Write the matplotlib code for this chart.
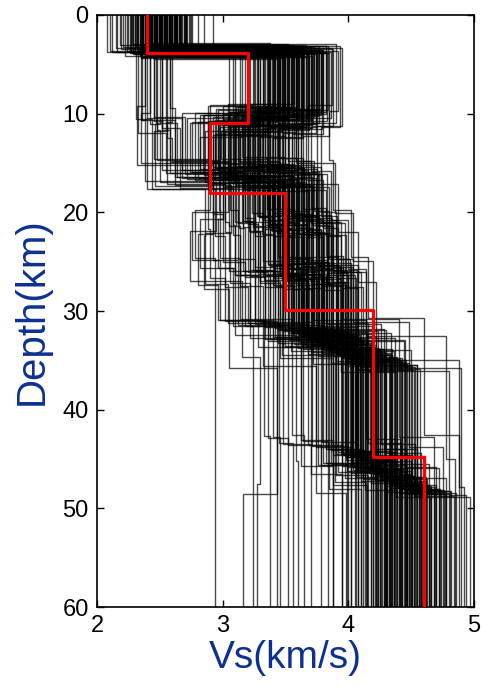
import matplotlib
matplotlib.use("Agg")
import matplotlib.pyplot as plt

plt.rcParams['font.family'] = ['Liberation Sans', 'DejaVu Sans']

# ---- best (red) model ----
best_vs = [2.40, 3.20, 2.90, 3.50, 4.20, 4.60]
best_top = [0.0, 3.9, 10.9, 18.0, 29.9, 44.8]
max_depth = 60.0

# ================= ensemble A =================
# interface depths (km)
z1 = [3.5, 3.2, 3.9, 3.0, 3.7, 4.2, 3.4, 3.6, 2.9, 3.8, 3.3, 4.0,
      3.6, 3.1, 3.9, 3.5, 4.3, 3.2, 3.7, 3.4, 2.8, 3.8, 3.5, 4.1,
      3.3, 3.6, 3.0, 3.9, 3.5, 4.4, 3.2, 3.7, 3.4, 3.8, 3.1, 4.0,
      3.6, 3.3, 3.9, 2.9, 3.5, 4.2, 3.4, 3.7, 3.2, 3.8, 3.6, 3.0,
      4.1, 3.5, 3.3, 3.9, 3.6, 3.1, 4.3, 3.4, 3.7, 3.2, 3.8, 3.5,
      3.0, 4.0, 3.6, 3.3, 3.9, 3.4, 4.5, 3.7, 3.1, 3.8, 3.5, 3.2]
z2 = [9.8, 10.6, 11.2, 9.2, 10.1, 11.8, 10.4, 9.5, 10.9, 12.2, 9.9, 10.7,
      11.4, 9.0, 10.3, 11.0, 9.7, 12.4, 10.5, 9.4, 11.6, 10.0, 10.8, 9.3,
      11.3, 10.2, 9.6, 12.0, 10.6, 11.1, 9.1, 10.4, 11.7, 9.8, 10.9, 10.1,
      12.3, 9.5, 10.7, 11.5, 9.9, 10.3, 11.9, 9.2, 10.5, 11.0, 9.7, 10.8,
      10.2, 11.4, 9.4, 10.6, 12.1, 9.6, 10.9, 11.2, 9.0, 10.4, 11.6, 10.0,
      9.8, 11.8, 10.3, 9.3, 10.7, 11.3, 10.1, 12.5, 9.9, 10.5, 11.1, 9.6]
z3 = [15.8, 16.4, 15.2, 17.0, 16.0, 14.6, 16.8, 15.5, 17.4, 16.2, 15.0, 16.6,
      15.4, 17.2, 16.1, 14.8, 16.9, 15.6, 17.6, 16.3, 15.1, 16.7, 15.9, 14.4,
      17.1, 16.5, 15.3, 16.0, 17.8, 15.7, 16.4, 15.0, 16.9, 15.5, 17.3, 16.2,
      14.9, 16.6, 15.8, 17.5, 16.1, 15.4, 16.8, 15.2, 17.0, 16.3, 14.7, 16.5,
      15.6, 17.2, 16.0, 15.3, 16.7, 17.7, 15.9, 14.5, 16.4, 15.7, 17.1, 16.2,
      15.1, 16.9, 15.5, 17.4, 16.0, 15.8, 16.6, 14.8, 17.3, 15.4, 16.3, 15.9]
z4 = [20.8, 21.4, 20.2, 22.0, 21.0, 19.8, 21.6, 20.5, 22.3, 21.2, 20.0, 21.7,
      20.4, 22.1, 21.1, 19.6, 21.8, 20.6, 22.4, 21.3, 20.1, 21.6, 20.9, 19.9,
      22.0, 21.5, 20.3, 21.0, 22.5, 20.7, 21.4, 20.0, 21.9, 20.5, 22.2, 21.2,
      19.7, 21.6, 20.8, 22.3, 21.1, 20.4, 21.8, 20.2, 22.0, 21.3, 19.8, 21.5,
      20.6, 22.1, 21.0, 20.3, 21.7, 22.4, 20.9, 19.9, 21.4, 20.7, 22.1, 21.2,
      20.1, 21.9, 20.5, 22.3, 21.0, 20.8, 21.6, 19.8, 22.2, 20.4, 21.3, 20.9]
z5 = [25.6, 26.4, 25.0, 27.2, 25.9, 24.6, 26.8, 25.3, 27.6, 26.1, 24.8, 26.6,
      25.2, 27.0, 26.0, 24.4, 26.9, 25.5, 27.8, 26.3, 24.9, 26.7, 25.8, 24.5,
      27.1, 26.5, 25.1, 25.9, 27.9, 25.7, 26.4, 24.7, 27.0, 25.4, 27.4, 26.2,
      24.6, 26.6, 25.6, 27.5, 26.0, 25.2, 26.8, 25.0, 27.3, 26.3, 24.5, 26.5,
      25.5, 27.2, 25.9, 25.1, 26.7, 27.7, 25.8, 24.8, 26.4, 25.6, 27.1, 26.1,
      25.0, 26.9, 25.3, 27.4, 25.9, 25.7, 26.6, 24.7, 27.3, 25.2, 26.2, 25.8]
z6 = [32.5, 33.6, 31.8, 34.8, 32.9, 31.0, 34.2, 32.2, 35.5, 33.1, 31.4, 33.9,
      32.0, 34.6, 33.0, 30.8, 34.4, 32.6, 35.8, 33.4, 31.6, 34.0, 32.8, 31.2,
      35.0, 33.7, 31.9, 32.7, 36.2, 32.4, 33.5, 31.1, 34.7, 32.3, 35.2, 33.2,
      30.9, 33.8, 32.5, 35.6, 33.0, 31.7, 34.3, 31.5, 35.1, 33.3, 30.7, 33.6,
      32.1, 34.9, 32.8, 31.8, 34.1, 36.0, 32.6, 31.3, 33.4, 32.4, 34.8, 33.1,
      31.5, 34.5, 32.2, 35.4, 32.9, 32.5, 33.9, 31.0, 35.3, 32.0, 33.3, 32.7]
z7 = [45.2, 46.5, 44.0, 47.6, 45.8, 43.2, 47.0, 44.6, 48.2, 45.9, 43.6, 46.8,
      44.8, 47.4, 45.6, 42.8, 47.2, 48.0, 48.6, 46.2, 44.2, 46.9, 45.4, 43.4,
      47.8, 46.4, 44.4, 45.7, 48.8, 45.0, 46.3, 43.8, 47.5, 44.9, 48.0, 45.5,
      43.0, 46.7, 45.1, 48.4, 45.9, 44.5, 47.1, 44.1, 47.9, 46.0, 42.6, 46.6,
      45.3, 47.7, 45.6, 44.3, 46.9, 48.5, 45.4, 43.5, 46.1, 45.2, 47.6, 45.8,
      44.0, 47.3, 44.7, 48.1, 45.7, 45.0, 46.8, 48.5, 48.3, 44.6, 46.2, 45.5]
# layer velocities (km/s)
v1 = [2.45, 2.31, 2.58, 2.40, 2.66, 2.22, 2.52, 2.37, 2.73, 2.48, 2.15, 2.61,
      2.43, 2.55, 2.29, 2.69, 2.50, 2.36, 2.08, 2.57, 2.44, 2.63, 2.33, 2.47,
      2.85, 2.41, 2.53, 2.26, 2.60, 2.46, 2.39, 2.71, 2.19, 2.51, 2.64, 2.34,
      2.49, 2.56, 2.42, 2.28, 2.67, 2.38, 2.54, 2.12, 2.59, 2.44, 2.75, 2.32,
      2.50, 2.62, 2.25, 2.47, 2.40, 2.70, 2.35, 2.57, 2.46, 2.21, 2.65, 2.43,
      2.53, 2.30, 2.60, 2.48, 2.39, 2.92, 2.45, 2.27, 2.56, 2.51, 2.37, 2.62]
v2 = [3.45, 2.35, 3.62, 3.20, 3.78, 2.55, 3.51, 3.33, 3.90, 3.40, 2.42, 3.68,
      3.28, 3.57, 2.45, 3.74, 3.48, 3.15, 2.31, 3.60, 3.38, 3.82, 3.05, 3.52,
      3.95, 3.42, 3.66, 2.33, 3.71, 3.47, 3.25, 3.86, 2.48, 3.55, 3.77, 3.18,
      3.50, 3.64, 3.36, 2.52, 3.80, 3.30, 3.58, 2.38, 3.70, 3.44, 3.92, 3.22,
      3.53, 3.75, 2.58, 3.49, 3.35, 3.84, 3.10, 3.63, 3.46, 2.40, 3.79, 3.41,
      3.56, 3.26, 3.69, 3.54, 3.32, 3.88, 3.43, 2.56, 3.61, 3.59, 3.37, 3.73]
v3 = [3.05, 2.62, 3.30, 2.88, 3.48, 2.45, 3.18, 2.95, 3.60, 3.10, 2.35, 3.38,
      2.98, 3.22, 2.70, 3.52, 3.12, 2.82, 2.40, 3.28, 3.02, 3.66, 2.76, 3.15,
      3.75, 3.08, 3.35, 2.55, 3.42, 3.00, 2.90, 3.58, 2.50, 3.20, 3.45, 2.85,
      3.14, 3.32, 2.96, 2.66, 3.55, 2.92, 3.25, 2.32, 3.40, 3.06, 3.85, 2.80,
      3.16, 3.50, 2.58, 3.10, 2.94, 3.62, 2.74, 3.34, 3.04, 2.68, 3.46, 3.00,
      3.24, 2.86, 3.36, 3.20, 2.90, 3.70, 3.08, 2.60, 3.30, 3.26, 2.98, 3.44]
v4 = [3.38, 3.05, 3.60, 3.22, 3.75, 2.90, 3.48, 3.30, 3.85, 3.42, 2.98, 3.66,
      3.35, 3.52, 3.12, 3.70, 3.45, 3.18, 2.86, 3.56, 3.40, 3.80, 3.15, 3.50,
      3.92, 3.36, 3.62, 3.02, 3.68, 3.44, 3.26, 3.78, 2.95, 3.54, 3.72, 3.20,
      3.46, 3.58, 3.33, 3.08, 3.76, 3.28, 3.55, 2.92, 3.64, 3.41, 3.88, 3.24,
      3.49, 3.71, 3.10, 3.43, 3.32, 3.82, 3.16, 3.59, 3.39, 3.00, 3.74, 3.37,
      3.53, 3.25, 3.65, 3.47, 3.29, 3.86, 3.40, 3.06, 3.61, 3.57, 3.34, 3.69]
v5 = [3.48, 3.10, 3.70, 3.30, 3.88, 2.78, 3.56, 3.40, 3.98, 3.52, 2.92, 3.78,
      3.44, 3.62, 3.20, 3.82, 3.55, 3.26, 2.85, 3.66, 3.50, 3.92, 3.22, 3.60,
      4.08, 3.46, 3.74, 3.05, 3.80, 3.54, 3.34, 3.90, 2.74, 3.64, 3.84, 3.28,
      3.57, 3.68, 3.42, 3.14, 3.86, 3.36, 3.65, 3.00, 3.76, 3.51, 4.02, 3.32,
      3.59, 3.83, 3.16, 3.53, 3.41, 3.94, 3.24, 3.69, 3.49, 2.96, 3.86, 3.47,
      3.63, 3.33, 3.77, 3.58, 3.38, 4.00, 3.50, 3.12, 3.72, 3.67, 3.43, 3.80]
v6 = [3.62, 3.28, 3.85, 3.46, 4.02, 2.94, 3.70, 3.55, 4.12, 3.66, 3.12, 3.92,
      3.58, 3.76, 3.36, 3.96, 3.68, 3.42, 3.05, 3.80, 3.64, 4.06, 3.38, 3.74,
      4.22, 3.60, 3.88, 3.22, 3.94, 3.67, 3.50, 4.04, 3.15, 3.78, 3.98, 3.44,
      3.71, 3.82, 3.56, 3.32, 4.00, 3.52, 3.79, 3.18, 3.90, 3.65, 4.16, 3.48,
      3.73, 3.97, 3.34, 3.66, 3.54, 4.08, 3.40, 3.83, 3.63, 3.10, 4.00, 3.61,
      3.77, 3.47, 3.91, 3.72, 3.53, 4.14, 3.64, 3.26, 3.86, 3.81, 3.57, 3.95]
v7 = [4.05, 3.70, 4.28, 3.88, 4.45, 2.94, 4.12, 3.96, 4.55, 4.08, 3.52, 4.35,
      4.00, 4.18, 3.78, 4.40, 4.10, 3.85, 3.43, 4.22, 4.06, 4.50, 3.80, 4.16,
      4.88, 4.02, 4.30, 3.62, 4.38, 4.09, 3.92, 4.48, 3.30, 4.20, 4.42, 3.86,
      4.14, 4.25, 3.98, 3.74, 4.44, 3.94, 4.21, 3.24, 4.33, 4.07, 4.60, 3.90,
      4.15, 4.39, 3.76, 4.08, 3.97, 4.52, 3.82, 4.26, 4.04, 3.58, 4.43, 4.03,
      4.19, 3.89, 4.34, 4.13, 3.95, 4.78, 4.06, 3.43, 4.29, 4.24, 3.99, 4.37]
v8 = [4.35, 3.95, 4.55, 4.15, 4.70, 2.94, 4.40, 4.22, 4.82, 4.30, 3.78, 4.62,
      4.25, 4.45, 4.05, 4.68, 4.38, 4.10, 3.43, 4.50, 4.32, 4.78, 4.02, 4.42,
      4.92, 4.28, 4.58, 3.88, 4.65, 4.36, 4.18, 4.75, 3.27, 4.48, 4.72, 4.12,
      4.41, 4.52, 4.24, 3.98, 4.72, 4.20, 4.47, 3.24, 4.60, 4.34, 4.88, 4.16,
      4.43, 4.66, 4.00, 4.36, 4.23, 4.80, 4.08, 4.53, 4.31, 3.60, 4.70, 4.29,
      4.46, 4.14, 4.61, 4.39, 4.21, 4.85, 4.33, 3.16, 4.56, 4.51, 4.26, 4.64]

# ================= ensemble B =================
y1 = [3.6, 3.3, 3.8, 3.4, 4.0, 3.1, 3.7, 3.5, 4.2, 3.2, 3.9, 3.6,
      3.0, 3.8, 3.4, 4.1, 3.5, 3.7, 3.3, 3.9, 2.9, 3.6, 4.3, 3.4,
      3.8, 3.2, 3.7, 3.5, 4.0, 3.3, 3.9, 3.6, 3.1, 3.8, 4.4, 3.5,
      3.7, 3.4, 3.9, 3.2, 3.6, 4.1, 3.5, 3.8, 3.0, 3.7, 3.4, 4.2,
      3.6, 3.3, 3.9, 3.5, 4.0, 3.2, 3.8, 3.6, 3.4, 3.7, 3.1, 3.9,
      3.5, 4.3, 3.6, 3.3, 3.8, 3.4, 3.7, 3.0, 3.9, 3.5, 4.1, 3.6]
y2 = [10.3, 9.6, 11.0, 10.7, 9.3, 11.5, 10.1, 12.1, 9.8, 10.5, 11.3, 9.4,
      10.9, 10.2, 11.8, 9.7, 10.6, 11.1, 9.2, 12.3, 10.4, 9.9, 11.4, 10.8,
      9.5, 11.7, 10.0, 10.6, 12.0, 9.3, 11.2, 10.4, 9.8, 11.6, 10.9, 10.1,
      9.6, 11.9, 10.3, 9.4, 11.0, 12.4, 10.7, 9.7, 11.3, 10.2, 9.9, 11.5,
      10.5, 9.1, 11.8, 10.8, 9.5, 11.1, 10.0, 12.2, 10.6, 9.8, 11.4, 10.3,
      9.4, 11.7, 10.9, 9.6, 11.2, 10.1, 12.5, 9.9, 10.7, 11.0, 9.3, 10.5]
y3 = [16.2, 15.4, 16.9, 15.7, 14.8, 17.3, 16.0, 15.2, 16.6, 17.6, 15.9, 16.4,
      15.0, 17.1, 16.3, 15.6, 16.8, 14.5, 17.4, 16.1, 15.3, 16.7, 15.8, 17.0,
      16.5, 14.9, 17.5, 15.5, 16.2, 17.2, 15.1, 16.6, 15.9, 17.7, 16.4, 15.4,
      16.0, 17.3, 15.7, 16.8, 14.7, 16.3, 17.0, 15.6, 16.9, 15.2, 16.5, 17.4,
      15.8, 16.1, 14.6, 17.1, 16.7, 15.3, 16.4, 17.6, 15.9, 16.2, 15.0, 16.8,
      17.2, 15.5, 16.6, 14.8, 17.5, 16.0, 15.7, 16.9, 15.4, 17.3, 16.3, 15.8]
y4 = [21.1, 20.4, 21.8, 20.7, 19.9, 22.2, 21.0, 20.3, 21.5, 22.4, 20.8, 21.3,
      20.1, 22.0, 21.2, 20.6, 21.7, 19.7, 22.3, 21.0, 20.4, 21.6, 20.9, 21.9,
      21.4, 20.0, 22.5, 20.5, 21.1, 22.1, 20.2, 21.5, 20.8, 22.4, 21.3, 20.4,
      21.0, 22.2, 20.7, 21.7, 19.8, 21.2, 21.9, 20.6, 21.8, 20.3, 21.4, 22.3,
      20.9, 21.1, 19.7, 22.0, 21.6, 20.4, 21.3, 22.4, 20.8, 21.2, 20.1, 21.7,
      22.1, 20.5, 21.5, 19.9, 22.4, 21.0, 20.7, 21.8, 20.4, 22.2, 21.3, 20.9]
y5 = [26.0, 25.3, 26.8, 25.6, 24.7, 27.3, 25.9, 25.1, 26.5, 27.6, 25.8, 26.3,
      24.9, 27.1, 26.2, 25.5, 26.7, 24.5, 27.5, 26.0, 25.2, 26.6, 25.7, 27.0,
      26.4, 24.8, 27.7, 25.4, 26.1, 27.2, 25.0, 26.5, 25.8, 27.8, 26.3, 25.3,
      25.9, 27.4, 25.6, 26.8, 24.6, 26.2, 27.0, 25.5, 26.9, 25.1, 26.4, 27.5,
      25.7, 26.0, 24.5, 27.2, 26.6, 25.2, 26.3, 27.6, 25.8, 26.1, 24.9, 26.7,
      27.3, 25.4, 26.5, 24.7, 27.8, 25.9, 25.6, 26.8, 25.3, 27.4, 26.2, 25.7]
y6 = [33.0, 32.2, 34.1, 31.5, 32.7, 33.8, 31.9, 35.0, 32.4, 31.2, 34.5, 33.3,
      32.0, 34.9, 33.5, 32.6, 31.0, 34.3, 32.8, 35.7, 33.1, 31.6, 34.6, 32.3,
      35.3, 30.9, 33.6, 32.1, 35.1, 32.9, 33.9, 31.4, 35.9, 32.5, 31.3, 34.4,
      33.2, 32.0, 34.7, 33.4, 30.8, 33.7, 31.8, 35.4, 32.6, 34.0, 31.1, 34.8,
      32.8, 36.1, 32.3, 31.5, 34.2, 33.0, 35.6, 31.9, 33.6, 32.4, 35.8, 33.3,
      31.2, 34.5, 32.2, 35.2, 33.1, 31.7, 34.1, 32.7, 35.5, 30.9, 33.8, 32.5]
y7 = [45.6, 44.3, 47.2, 43.5, 45.1, 46.8, 44.0, 48.1, 45.4, 43.1, 47.5, 46.0,
      44.6, 48.4, 46.3, 45.2, 42.9, 47.0, 45.8, 48.7, 46.1, 43.8, 47.7, 44.9,
      48.3, 42.7, 46.5, 44.4, 48.0, 45.5, 46.9, 43.3, 48.9, 45.0, 43.6, 47.3,
      45.9, 44.2, 47.8, 46.4, 42.6, 46.7, 44.1, 48.5, 45.3, 47.1, 43.7, 47.9,
      45.7, 48.6, 44.7, 43.2, 47.4, 46.2, 48.2, 44.5, 46.6, 45.6, 48.8, 46.0,
      43.4, 47.6, 44.8, 48.1, 45.9, 44.0, 47.0, 45.1, 48.4, 42.8, 46.3, 45.4]
w1 = [2.52, 2.38, 2.66, 2.44, 2.29, 2.60, 2.47, 2.71, 2.34, 2.56, 2.42, 2.63,
      2.18, 2.50, 2.68, 2.40, 2.55, 2.32, 2.74, 2.46, 2.59, 2.36, 2.64, 2.49,
      2.27, 2.57, 2.43, 2.70, 2.53, 2.39, 2.61, 2.10, 2.48, 2.65, 2.35, 2.58,
      2.45, 2.72, 2.41, 2.54, 2.24, 2.62, 2.50, 2.37, 2.67, 2.44, 2.80, 2.52,
      2.33, 2.58, 2.47, 2.69, 2.40, 2.55, 2.30, 2.63, 2.51, 2.42, 2.76, 2.46,
      2.57, 2.36, 2.66, 2.49, 2.16, 2.60, 2.44, 2.71, 2.53, 2.38, 2.64, 2.48]
w2 = [3.58, 3.36, 3.72, 2.45, 3.50, 3.64, 3.24, 3.80, 3.42, 2.38, 3.68, 3.54,
      3.30, 3.76, 3.47, 3.60, 2.36, 3.70, 3.40, 3.85, 3.52, 3.14, 3.66, 3.44,
      3.78, 2.52, 3.57, 3.34, 3.74, 3.48, 3.62, 3.20, 3.82, 3.46, 2.47, 3.67,
      3.55, 3.38, 3.73, 3.50, 2.42, 3.63, 3.28, 3.79, 3.45, 3.59, 3.08, 3.71,
      3.53, 3.87, 3.39, 2.60, 3.65, 3.49, 3.75, 3.32, 3.61, 3.43, 3.93, 3.56,
      2.58, 3.69, 3.37, 3.77, 3.51, 3.27, 3.64, 3.46, 3.83, 2.50, 3.58, 3.41]
w3 = [3.22, 2.96, 3.40, 2.52, 3.12, 3.32, 2.84, 3.55, 3.06, 2.44, 3.36, 3.18,
      2.90, 3.47, 3.14, 3.28, 2.38, 3.44, 3.00, 3.64, 3.20, 2.78, 3.38, 3.09,
      3.52, 2.58, 3.26, 2.94, 3.48, 3.11, 3.34, 2.72, 3.60, 3.16, 2.64, 3.42,
      3.24, 3.02, 3.50, 3.19, 2.48, 3.30, 2.88, 3.57, 3.07, 3.27, 2.68, 3.45,
      3.21, 3.68, 2.99, 2.56, 3.37, 3.13, 3.53, 2.92, 3.31, 3.04, 3.78, 3.23,
      2.62, 3.43, 2.97, 3.58, 3.17, 2.82, 3.39, 3.10, 3.62, 2.46, 3.29, 3.01]
w4 = [3.50, 3.27, 3.66, 3.00, 3.44, 3.58, 3.19, 3.72, 3.37, 2.94, 3.62, 3.47,
      3.23, 3.69, 3.41, 3.53, 2.88, 3.64, 3.34, 3.79, 3.48, 3.13, 3.60, 3.39,
      3.74, 3.04, 3.52, 3.29, 3.70, 3.43, 3.57, 3.16, 3.77, 3.40, 3.08, 3.63,
      3.51, 3.31, 3.68, 3.45, 2.97, 3.56, 3.21, 3.75, 3.38, 3.54, 3.11, 3.67,
      3.46, 3.83, 3.35, 3.02, 3.61, 3.42, 3.71, 3.26, 3.55, 3.36, 3.89, 3.49,
      3.07, 3.65, 3.32, 3.73, 3.44, 3.18, 3.59, 3.40, 3.78, 2.92, 3.53, 3.37]
w5 = [3.60, 3.36, 3.78, 2.82, 3.52, 3.70, 3.28, 3.86, 3.46, 3.02, 3.74, 3.56,
      3.32, 3.81, 3.50, 3.64, 2.90, 3.76, 3.42, 3.94, 3.58, 3.18, 3.72, 3.48,
      3.88, 2.76, 3.63, 3.38, 3.83, 3.53, 3.67, 3.22, 3.90, 3.49, 3.10, 3.75,
      3.61, 3.40, 3.80, 3.55, 2.98, 3.66, 3.30, 3.87, 3.47, 3.65, 3.14, 3.79,
      3.57, 3.97, 3.44, 3.06, 3.71, 3.51, 3.84, 3.34, 3.64, 3.45, 4.04, 3.59,
      2.86, 3.77, 3.41, 3.85, 3.54, 3.26, 3.69, 3.50, 3.91, 2.80, 3.62, 3.46]
w6 = [3.76, 3.52, 3.94, 3.08, 3.68, 3.86, 3.44, 4.02, 3.62, 3.20, 3.90, 3.72,
      3.48, 3.97, 3.66, 3.80, 3.02, 3.92, 3.58, 4.10, 3.74, 3.34, 3.88, 3.64,
      4.05, 2.98, 3.79, 3.54, 3.99, 3.69, 3.83, 3.38, 4.07, 3.65, 3.26, 3.91,
      3.77, 3.56, 3.96, 3.71, 3.14, 3.82, 3.46, 4.04, 3.63, 3.81, 3.30, 3.95,
      3.73, 4.14, 3.60, 3.22, 3.87, 3.67, 4.00, 3.50, 3.80, 3.61, 4.20, 3.75,
      3.04, 3.93, 3.57, 4.01, 3.70, 3.42, 3.85, 3.66, 4.08, 2.96, 3.78, 3.62]
w7 = [4.18, 3.92, 4.36, 3.48, 4.10, 4.28, 3.84, 4.46, 4.03, 3.62, 4.32, 4.14,
      3.88, 4.41, 4.07, 4.22, 3.36, 4.34, 4.00, 4.53, 4.16, 3.74, 4.30, 4.05,
      4.48, 3.33, 4.20, 3.95, 4.43, 4.11, 4.25, 3.79, 4.57, 4.08, 3.68, 4.33,
      4.19, 3.97, 4.39, 4.13, 3.55, 4.24, 3.86, 4.47, 4.04, 4.23, 3.71, 4.37,
      4.15, 4.80, 4.01, 3.64, 4.29, 4.09, 4.51, 3.90, 4.21, 4.02, 4.90, 4.17,
      3.45, 4.35, 3.98, 4.45, 4.12, 3.82, 4.27, 4.06, 4.55, 3.40, 4.19, 4.03]
w8 = [4.45, 4.20, 4.62, 3.70, 4.36, 4.56, 4.10, 4.76, 4.30, 3.88, 4.58, 4.41,
      4.15, 4.68, 4.33, 4.50, 3.52, 4.63, 4.27, 4.84, 4.44, 4.02, 4.57, 4.31,
      4.78, 3.38, 4.49, 4.22, 4.73, 4.39, 4.54, 4.06, 4.90, 4.34, 3.95, 4.61,
      4.47, 4.24, 4.69, 4.42, 3.65, 4.52, 4.13, 4.77, 4.32, 4.51, 3.99, 4.66,
      4.43, 4.94, 4.28, 3.84, 4.59, 4.37, 4.81, 4.18, 4.48, 4.29, 4.97, 4.46,
      3.56, 4.64, 4.25, 4.74, 4.40, 4.08, 4.55, 4.35, 4.86, 3.46, 4.47, 4.30]

x_ticks = [2, 3, 4, 5]
y_ticks = [0, 10, 20, 30, 40, 50, 60]
label_color = '#0d3190'


def step_profile(vs, tops, bottom):
    xs, ys = [], []
    bounds = list(tops) + [bottom]
    for i, v in enumerate(vs):
        xs += [v, v]
        ys += [bounds[i], bounds[i + 1]]
    return xs, ys


fig = plt.figure(figsize=(4.82, 6.88), dpi=100)
ax = fig.add_axes([0.2012, 0.1177, 0.7822, 0.8605])

ensembles = [
    ([v1, v2, v3, v4, v5, v6, v7, v8], [z1, z2, z3, z4, z5, z6, z7]),
    ([w1, w2, w3, w4, w5, w6, w7, w8], [y1, y2, y3, y4, y5, y6, y7]),
]
for vel_layers, int_layers in ensembles:
    for k in range(len(vel_layers[0])):
        vs = [layer[k] for layer in vel_layers]
        tops = [0.0] + [layer[k] for layer in int_layers]
        xs, ys = step_profile(vs, tops, max_depth)
        ax.plot(xs, ys, color='black', lw=1.0, alpha=0.7)

bx, by = step_profile(best_vs, best_top, max_depth)
ax.plot(bx, by, color='#ff0000', lw=2.3, zorder=5)

ax.set_xlim(2, 5)
ax.set_ylim(60, 0)
ax.set_xticks(x_ticks)
ax.set_yticks(y_ticks)
ax.tick_params(direction='in', top=True, right=True, length=5, width=1,
               labelsize=17, pad=6)
for s in ax.spines.values():
    s.set_linewidth(1.2)
ax.set_xlabel('Vs(km/s)', fontsize=28, color=label_color, labelpad=2)
ax.set_ylabel('Depth(km)', fontsize=29, color=label_color, labelpad=8)

fig.savefig('out.png', dpi=100)
